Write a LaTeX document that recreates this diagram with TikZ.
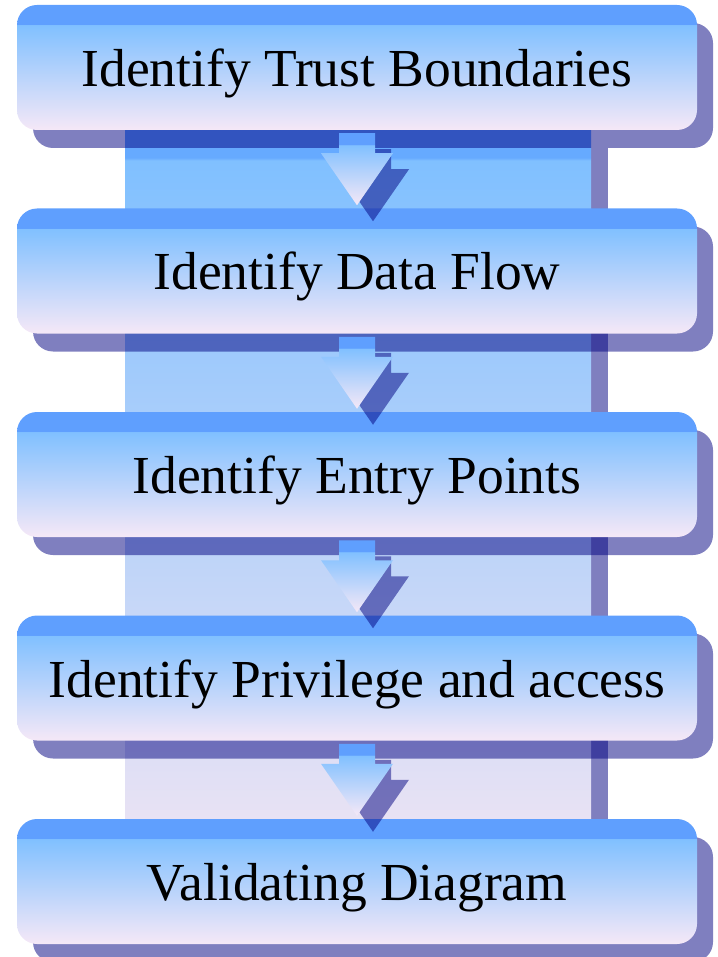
\documentclass[tikz,border=0pt]{standalone}
\usepackage{fontspec}
\newfontfamily\stepfont{Liberation Serif}
\usetikzlibrary{shadows,calc,backgrounds}

\definecolor{glossband}{HTML}{5F9FFE}
\definecolor{glosstop}{HTML}{80C0FF}
\definecolor{glossbot}{HTML}{F5E8F7}
\definecolor{colband}{HTML}{66AAFF}
\definecolor{colbot}{HTML}{E8E2F4}
\definecolor{shadenavy}{HTML}{000080}

\pgfdeclareverticalshading{glossy}{100bp}{color(0bp)=(glossbot); color(25bp)=(glossbot);
  color(67bp)=(glosstop); color(67.2bp)=(glossband); color(100bp)=(glossband)}
\pgfdeclareverticalshading{columnshade}{100bp}{color(0bp)=(colbot); color(25bp)=(colbot);
  color(72.8bp)=(glosstop); color(73bp)=(colband); color(100bp)=(colband)}

\begin{document}
\begin{tikzpicture}[x=1pt, y=1pt,
    stepbox/.style={shading=glossy, rounded corners=20pt,
                    minimum width=680pt, minimum height=125pt, inner sep=0pt,
                    text height=38pt, text depth=0pt,
                    font=\stepfont\fontsize{53.5}{62}\selectfont,
                    drop shadow={shadow xshift=16pt, shadow yshift=-18pt,
                                 fill=shadenavy, opacity=0.5}},
    flowshadow/.style={fill=shadenavy, opacity=0.5},
    flowarrow/.style={shading=glossy}]

  \useasboundingbox (0,0) rectangle (717,-957);

  %% Steps
  \node[stepbox] (trust) at (357,-67.5)  {Identify Trust Boundaries};
  \node[stepbox] (flow)  at (357,-271)   {Identify Data Flow};
  \node[stepbox] (entry) at (357,-474.5) {Identify Entry Points};
  \node[stepbox] (priv)  at (357,-678)   {Identify Privilege and access};
  \node[stepbox] (valid) at (357,-881.5) {Validating Diagram};

  %% Backing column
  \begin{scope}[on background layer]
    \path[shading=columnshade,
          drop shadow={shadow xshift=17pt, shadow yshift=-18pt,
                       fill=shadenavy, opacity=0.5}]
      ($(trust.south)+(-232,0)$) rectangle ($(valid.north)+(234,0)$);
  \end{scope}

  %% Arrows
  \foreach \from/\to in {trust/flow, flow/entry, entry/priv, priv/valid} {
    \coordinate (mid) at ($(\from.south)!0.5!(\to.north)$);
    \begin{scope}[shift={(mid)}]
      \fill[flowshadow, xshift=16pt, yshift=-16pt]
        (-18,36) -- (18,36) -- (18,16) -- (36,16) -- (0,-36) -- (-36,16) -- (-18,16) -- cycle;
      \path[flowarrow]
        (-18,36) -- (18,36) -- (18,16) -- (36,16) -- (0,-36) -- (-36,16) -- (-18,16) -- cycle;
    \end{scope}
  }
\end{tikzpicture}
\end{document}
